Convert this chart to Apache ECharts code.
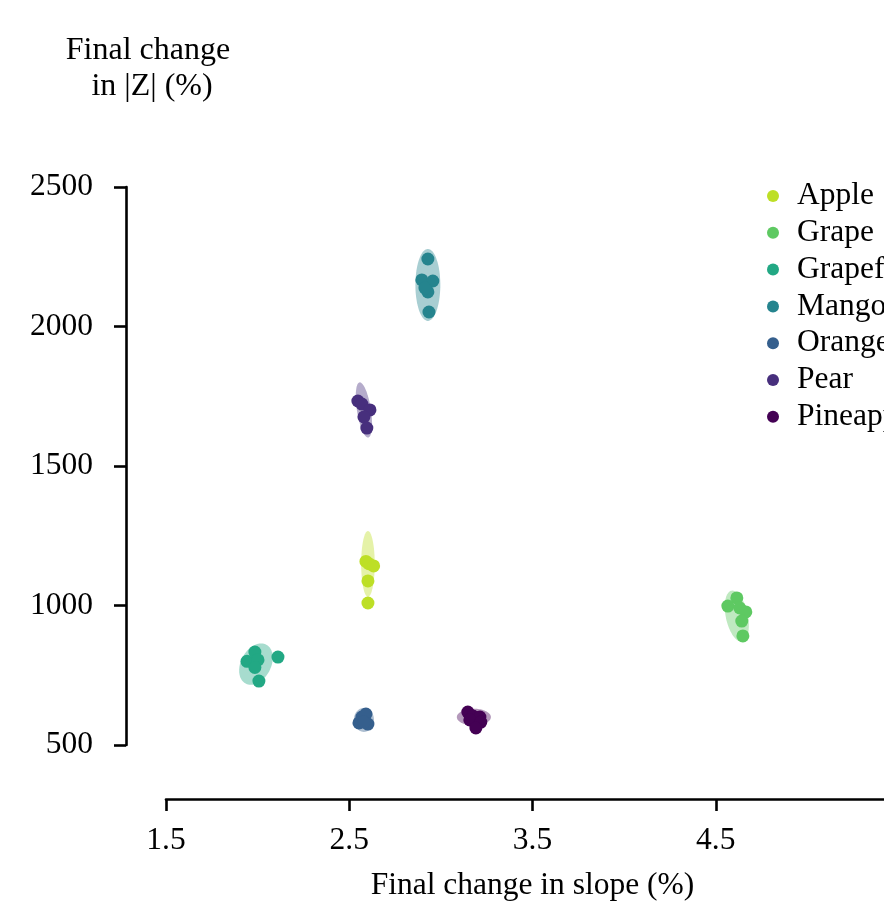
<!DOCTYPE html>
<html>
<head>
<meta charset="utf-8">
<script src="https://cdn.jsdelivr.net/npm/echarts@6/dist/echarts.min.js"></script>
<style>html,body{margin:0;padding:0;background:#fff;}#chart{width:884px;height:903px;}</style>
</head>
<body>
<div id="chart"></div>
<script>
// ---- data ----
const fruits = ['Apple', 'Grape', 'Grapefruit', 'Mango', 'Orange', 'Pear', 'Pineapple'];
const colors = ['#bddf26', '#5ec962', '#22a884', '#25848e', '#355f8d', '#472f7d', '#440154'];

const appleX = [2.591, 2.607, 2.633, 2.602, 2.602];
const appleY = [1158, 1150, 1142, 1088, 1009];
const grapeX = [4.566, 4.615, 4.631, 4.664, 4.642, 4.648];
const grapeY = [998, 1027, 991, 977, 944, 891];
const grapefruitX = [1.942, 1.985, 2.002, 1.985, 2.111, 2.007];
const grapefruitY = [800, 833, 805, 778, 815, 729];
const mangoX = [2.929, 2.896, 2.956, 2.929, 2.913, 2.935];
const mangoY = [2242, 2167, 2163, 2124, 2138, 2052];
const orangeX = [2.569, 2.591, 2.553, 2.602, 2.580];
const orangeY = [600, 611, 579, 575, 582];
const pearX = [2.547, 2.569, 2.613, 2.580, 2.596];
const pearY = [1733, 1722, 1701, 1676, 1636];
const pineappleX = [3.147, 3.175, 3.213, 3.158, 3.218, 3.191];
const pineappleY = [618, 604, 600, 590, 582, 561];

// ellipse (spread) per fruit: centre, semi-axes in data units, tilt in degrees
const ellipseCX = [2.602, 4.615, 1.991, 2.929, 2.580, 2.580, 3.180];
const ellipseCY = [1149, 962, 790, 2149, 590, 1701, 600];
const ellipseRX = [0.037, 0.060, 0.082, 0.068, 0.055, 0.038, 0.093];
const ellipseRY = [118, 93, 79, 129, 43, 100, 30];
const ellipseTilt = [0, -12, 28, 0, 0, -9, 0];

const xTicks = [1.5, 2.5, 3.5, 4.5, 5.5];
const yTicks = [500, 1000, 1500, 2000, 2500];

const xs = [appleX, grapeX, grapefruitX, mangoX, orangeX, pearX, pineappleX];
const ys = [appleY, grapeY, grapefruitY, mangoY, orangeY, pearY, pineappleY];

// ---- chart ----
const FONT = '"Liberation Serif", "Times New Roman", serif';
const FS = 31.5;
const chart = echarts.init(document.getElementById('chart'), null, {renderer: 'canvas'});

const ellipseData = fruits.map((f, i) => ({
  value: [ellipseCX[i], ellipseCY[i], ellipseRX[i], ellipseRY[i], ellipseTilt[i]],
  itemStyle: {color: colors[i]}
}));

const series = [{
  type: 'custom',
  name: 'spread',
  silent: true,
  z: 1,
  encode: {x: 0, y: 1},
  data: ellipseData,
  renderItem: function (params, api) {
    const c = api.coord([api.value(0), api.value(1)]);
    const s = api.size([api.value(2), api.value(3)]);
    const th = api.value(4) * Math.PI / 180;
    const pts = [];
    for (let k = 0; k < 90; k++) {
      const t = 2 * Math.PI * k / 90;
      const px = s[0] * Math.cos(t), py = s[1] * Math.sin(t);
      pts.push([c[0] + px * Math.cos(th) - py * Math.sin(th), c[1] + px * Math.sin(th) + py * Math.cos(th)]);
    }
    return {type: 'polygon', shape: {points: pts}, style: {fill: api.visual('color'), opacity: 0.4}};
  }
}];

fruits.forEach((f, i) => {
  series.push({
    type: 'scatter',
    name: f,
    z: 3,
    symbol: 'circle',
    symbolSize: 13,
    itemStyle: {color: colors[i], opacity: 1},
    data: xs[i].map((x, j) => [x, ys[i][j]])
  });
});

const option = {
  animation: false,
  backgroundColor: '#fff',
  grid: {left: 166, top: 187, width: 733, height: 558, containLabel: false, outerBoundsMode: 'none'},
  xAxis: {
    type: 'value',
    min: xTicks[0], max: xTicks[xTicks.length - 1], interval: 1,
    offset: 54,
    name: 'Final change in slope (%)',
    nameLocation: 'middle',
    nameGap: 71,
    nameTextStyle: {fontFamily: FONT, fontSize: FS, color: '#000'},
    axisLine: {onZero: false, lineStyle: {color: '#000', width: 2.6}},
    axisTick: {length: 12, lineStyle: {color: '#000', width: 2.6}},
    axisLabel: {fontFamily: FONT, fontSize: FS, color: '#000', margin: 26, showMaxLabel: false,
      formatter: v => v.toFixed(1)},
    splitLine: {show: false}
  },
  yAxis: {
    type: 'value',
    min: yTicks[0], max: yTicks[yTicks.length - 1], interval: 500,
    offset: 40,
    axisLine: {onZero: false, lineStyle: {color: '#000', width: 2.6}},
    axisTick: {length: 12, lineStyle: {color: '#000', width: 2.6}},
    axisLabel: {fontFamily: FONT, fontSize: FS, color: '#000', margin: 33, formatter: v => String(v)},
    splitLine: {show: false}
  },
  legend: {
    data: fruits,
    orient: 'vertical',
    left: 762,
    top: 175,
    icon: 'circle',
    itemWidth: 12,
    itemHeight: 12,
    itemGap: 4.8,
    textStyle: {fontFamily: FONT, fontSize: FS, color: '#000', lineHeight: 30, padding: [0, 0, 0, 13]}
  },
  graphic: [{
    type: 'text',
    x: 148,
    y: 33,
    style: {
      text: 'Final change\n in |Z| (%)',
      textAlign: 'center',
      textVerticalAlign: 'top',
      fontFamily: FONT,
      fontSize: 32,
      lineHeight: 36,
      fill: '#000'
    }
  }],
  series: series
};
chart.setOption(option);
</script>
</body>
</html>
